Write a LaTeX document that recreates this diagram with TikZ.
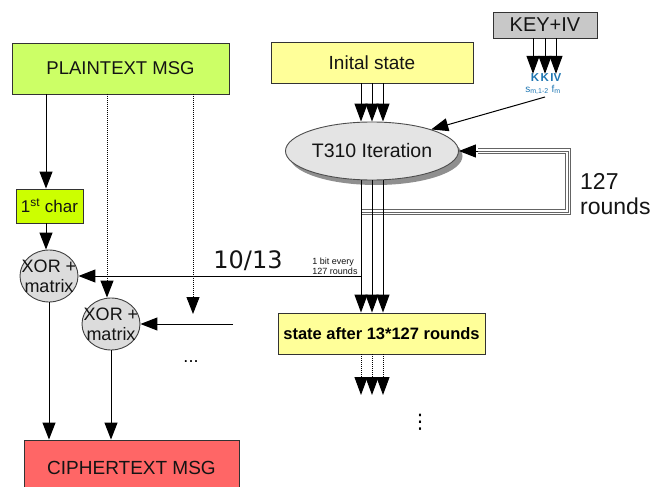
\documentclass[tikz,border=0pt]{standalone}
\usepackage{fontspec}
\setmainfont{Liberation Sans}
\newfontfamily\dejavu{DejaVu Sans}
\usetikzlibrary{arrows.meta,shapes.geometric,shadows}
\definecolor{plaincol}{RGB}{204,255,102}
\definecolor{charcol}{RGB}{204,255,0}
\definecolor{yelcol}{RGB}{255,255,153}
\definecolor{keycol}{RGB}{200,200,200}
\definecolor{itercol}{RGB}{228,228,228}
\definecolor{xorcol}{RGB}{220,220,220}
\definecolor{ciphcol}{RGB}{255,102,102}
\definecolor{bluecol}{RGB}{30,118,178}
\definecolor{txtcol}{RGB}{20,20,20}
\definecolor{loopcol}{RGB}{100,100,100}
\begin{document}
\begin{tikzpicture}[x=1pt,y=-1pt,
  box/.style={draw=black!80, line width=0.9pt, inner sep=0pt, text=txtcol},
  arr/.style={line width=1pt, -{Triangle[length=17pt,width=13pt]}},
  karr/.style={line width=1pt, -{Triangle[length=18pt,width=13pt]}},
  darr/.style={arr, densely dotted},
  xorell/.style={ellipse, draw=black!75, line width=0.9pt, fill=xorcol, minimum width=58pt, minimum height=52pt, inner sep=0pt},
  xortxt/.style={align=center, inner sep=0pt, text=txtcol, font=\fontsize{18}{20}\selectfont},
  loopouter/.style={line width=6pt, draw=loopcol},
  loopinner/.style={line width=4pt, draw=white},
  loopmid/.style={line width=1pt, draw=loopcol}
]
\clip (0,0) rectangle (654,487);
\useasboundingbox (0,0) rectangle (654,487);

% boxes
\node[box, fill=keycol, minimum width=104pt, minimum height=26pt, font=\fontsize{20}{22}\selectfont] (key) at (545,25) {KEY+IV};
\node[box, fill=yelcol, minimum width=202pt, minimum height=41pt, font=\fontsize{19}{21}\selectfont] (init) at (372,62.5) {Inital state};
\node[box, fill=plaincol, minimum width=217pt, minimum height=51pt, font=\fontsize{18.5}{21}\selectfont] (plain) at (120.5,68.5) {PLAINTEXT MSG};
\node[box, fill=charcol, minimum width=67pt, minimum height=34pt, font=\fontsize{17}{19}\selectfont] (char) at (49.5,206) {1\textsuperscript{st} char};
\node[box, fill=yelcol, minimum width=207pt, minimum height=41pt, font=\bfseries\fontsize{16.5}{19}\selectfont, text=black] (state) at (381.5,333.5) {state after 13*127 rounds};
\node[box, fill=ciphcol, minimum width=215pt, minimum height=56pt, font=\fontsize{19}{21}\selectfont] (cipher) at (131.5,468) {CIPHERTEXT MSG};

% ellipses
\node[ellipse, draw=black!70, line width=0.9pt, fill=itercol, minimum width=173pt, minimum height=58pt, inner sep=0pt,
  drop shadow={shadow xshift=4pt, shadow yshift=-5pt, fill=black!55, opacity=0.8},
  font=\fontsize{19.5}{22}\selectfont, text=txtcol] (iter) at (372,151) {T310 Iteration};
\node[xorell] (xor1) at (49,276) {};
\node[xortxt] (xor1t) at (xor1) {XOR +\\matrix};
\node[xorell] (xor2) at (111,324) {};
\node[xortxt] (xor2t) at (xor2) {XOR +\\matrix};

% key material labels
\node[text=bluecol, font=\bfseries\fontsize{11.5}{12}\selectfont, inner sep=0pt] (kkiv) at (546,78) {K\hspace{1.5pt}K\hspace{1.5pt}IV};
\node[text=bluecol, font=\fontsize{10}{11}\selectfont, inner sep=0pt] (sf) at (543,90) {s\textsubscript{m,1-2} f\textsubscript{m}};

% text labels
\node[font=\dejavu\fontsize{24}{26}\selectfont, text=txtcol, inner sep=0pt] (ratio) at (248,261) {10/13};
\node[font=\fontsize{9}{10}\selectfont, align=left, inner sep=0pt, text=txtcol] (bitlbl) at (335,266) {1 bit every\\127 rounds};
\node[font=\fontsize{23}{25}\selectfont, align=left, anchor=west, inner sep=0pt, text=txtcol] (rounds) at (580,194) {127\\rounds};
\node[font=\fontsize{18}{20}\selectfont, inner sep=0pt] (dots) at (191,362) {...};
\node[font=\dejavu\fontsize{20}{22}\selectfont, inner sep=0pt] (vdots) at (420,422) {⋮};

% key arrows
\coordinate (k1) at ([xshift=-12pt]key.south);
\coordinate (k2) at (key.south);
\coordinate (k3) at ([xshift=11pt]key.south);
\draw[karr] (k1) -- (k1 |- kkiv.north);
\draw[karr] (k2) -- (k2 |- kkiv.north);
\draw[karr] (k3) -- (k3 |- kkiv.north);
\coordinate (ks) at (545,97);
\draw[arr] (ks) -- (iter.20);

% feedback loop (triple line)
\coordinate (lpb) at (361,212);
\coordinate (lpr) at (568,212);
\coordinate (lpt) at (568,151);
\coordinate (lpe) at (478,151);
\draw[loopouter] (lpb) -- (lpr) -- (lpt) -- (lpe);
\draw[loopinner] (lpb) -- (lpr) -- (lpt) -- (lpe);
\draw[loopmid] (lpb) -- (lpr) -- (lpt) -- (lpe);
\draw[arr] (lpe) -- (iter.east);

% state arrows
\coordinate (a1) at ([xshift=-11pt]init.south);
\coordinate (a2) at (init.south);
\coordinate (a3) at ([xshift=11pt]init.south);
\draw[karr] (a1) -- (a1 |- iter.north);
\draw[karr] (a2) -- (a2 |- iter.north);
\draw[karr] (a3) -- (a3 |- iter.north);
\draw[karr] (a1 |- iter.south) -- (a1 |- state.north);
\draw[karr] (a2 |- iter.south) -- (a2 |- state.north);
\draw[karr] (a3 |- iter.south) -- (a3 |- state.north);
\coordinate (c1) at (361,395);
\coordinate (c2) at (372,395);
\coordinate (c3) at (383,395);
\draw[karr, densely dotted] (a1 |- state.south) -- (c1);
\draw[karr, densely dotted] (a2 |- state.south) -- (c2);
\draw[karr, densely dotted] (a3 |- state.south) -- (c3);

% 1 bit line
\draw[arr] (a1 |- xor1.east) -- (xor1.east);

% plaintext side
\coordinate (p1) at (46,94);
\draw[arr] (p1) -- (p1 |- char.north);
\draw[arr] (p1 |- char.south) -- (p1 |- xor1.north);
\coordinate (p2) at (107,94);
\draw[darr] (p2) -- (p2 |- xor2.north);
\coordinate (p3) at (193,94);
\coordinate (p3e) at (193,314);
\draw[darr] (p3) -- (p3e);
\coordinate (x2in) at (233,324);
\draw[arr] (x2in) -- (xor2.east);
\draw[arr] (xor1.south) -- (xor1.south |- cipher.north);
\draw[arr] (xor2.south) -- (xor2.south |- cipher.north);
\end{tikzpicture}
\end{document}
